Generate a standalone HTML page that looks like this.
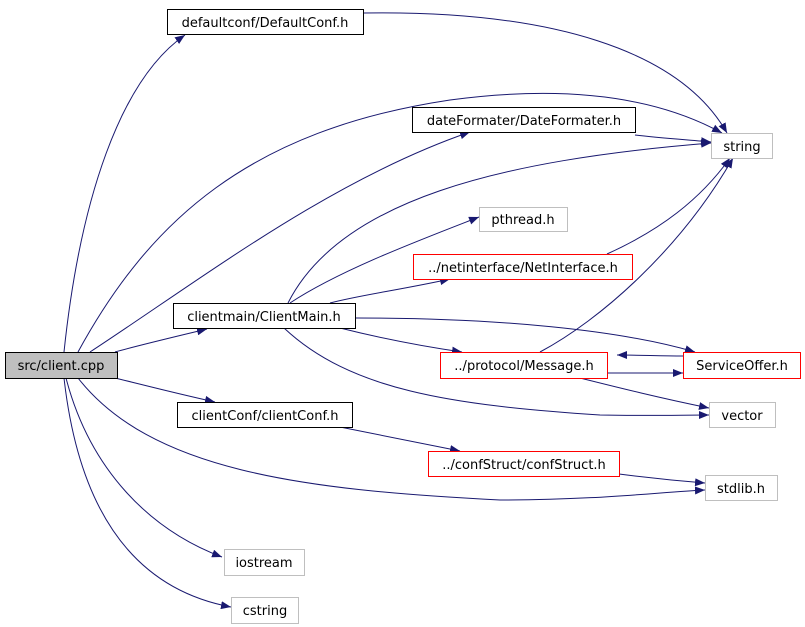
<!DOCTYPE html>
<html><head><meta charset="utf-8"><style>
html,body{margin:0;padding:0;background:#fff;width:805px;height:627px;overflow:hidden}
text{font-family:"DejaVu Sans","Liberation Sans",sans-serif;font-size:13px;fill:#000}
</style></head><body>
<svg width="805" height="627" viewBox="0 0 805 627" xmlns="http://www.w3.org/2000/svg">
<defs><marker id="a" viewBox="0 0 10 8" refX="10" refY="4" markerWidth="10" markerHeight="8" markerUnits="userSpaceOnUse" orient="auto"><path d="M0,0L10,4L0,8z" fill="#191970"/></marker></defs>
<g fill="none" stroke="#191970" stroke-width="1" marker-end="url(#a)">
<path d="M64,352C80,200 120,80 185,35"/>
<path d="M78,352C150,220 250,130 450,100C600,80 680,110 722,133"/>
<path d="M90,352C200,280 330,180 470,132"/>
<path d="M115,352C140,345 170,338 207,329"/>
<path d="M115,378C140,384 170,392 215,402"/>
<path d="M78,378C150,470 300,490 500,500C600,500 660,492 705,490"/>
<path d="M66,378C90,470 150,530 222,557"/>
<path d="M64,378C80,520 140,590 231,607"/>
<path d="M363,13C550,10 680,50 727,133"/>
<path d="M635,135C660,138 690,140 711,142"/>
<path d="M288,303C340,200 500,160 711,143"/>
<path d="M290,303C340,270 420,240 479,217"/>
<path d="M330,303C360,295 400,290 450,279"/>
<path d="M356,318C500,318 620,330 695,352"/>
<path d="M340,328C380,338 420,346 462,352"/>
<path d="M284,328C350,390 450,405 600,415C650,416 680,415 709,415"/>
<path d="M607,254C660,230 700,200 730,158"/>
<path d="M540,352C600,320 680,250 733,158"/>
<path d="M683,356C660,356 640,355 617,355"/>
<path d="M607,373C630,373 660,373 683,373"/>
<path d="M580,378C620,388 660,398 709,408"/>
<path d="M340,427C380,435 420,443 460,451"/>
<path d="M619,474C650,478 680,481 705,483"/>
</g>
<g stroke-width="1">
<rect x="5.5" y="352.5" width="112" height="26" fill="#bfbfbf" stroke="#000"/>
<rect x="167.5" y="9.5" width="196" height="25" fill="#fff" stroke="#000"/>
<rect x="412.5" y="107.5" width="223" height="25" fill="#fff" stroke="#000"/>
<rect x="711.5" y="133.5" width="61" height="25" fill="#fff" stroke="#bfbfbf"/>
<rect x="479.5" y="207.5" width="88" height="24" fill="#fff" stroke="#bfbfbf"/>
<rect x="413.5" y="254.5" width="219" height="25" fill="#fff" stroke="#ff0000"/>
<rect x="173.5" y="303.5" width="182" height="25" fill="#fff" stroke="#000"/>
<rect x="440.5" y="352.5" width="167" height="26" fill="#fff" stroke="#ff0000"/>
<rect x="683.5" y="352.5" width="117" height="26" fill="#fff" stroke="#ff0000"/>
<rect x="709.5" y="402.5" width="66" height="25" fill="#fff" stroke="#bfbfbf"/>
<rect x="177.5" y="402.5" width="175" height="25" fill="#fff" stroke="#000"/>
<rect x="428.5" y="451.5" width="191" height="25" fill="#fff" stroke="#ff0000"/>
<rect x="705.5" y="475.5" width="72" height="25" fill="#fff" stroke="#bfbfbf"/>
<rect x="224.5" y="549.5" width="80" height="26" fill="#fff" stroke="#bfbfbf"/>
<rect x="231.5" y="597.5" width="67" height="26" fill="#fff" stroke="#bfbfbf"/>
</g>
<g text-anchor="middle">
<text x="61" y="370">src/client.cpp</text>
<text x="265" y="27">defaultconf/DefaultConf.h</text>
<text x="524" y="125">dateFormater/DateFormater.h</text>
<text x="742" y="151">string</text>
<text x="523" y="224">pthread.h</text>
<text x="523" y="272">../netinterface/NetInterface.h</text>
<text x="264" y="321">clientmain/ClientMain.h</text>
<text x="524" y="370">../protocol/Message.h</text>
<text x="742" y="370">ServiceOffer.h</text>
<text x="742" y="420">vector</text>
<text x="265" y="420">clientConf/clientConf.h</text>
<text x="524" y="469">../confStruct/confStruct.h</text>
<text x="741" y="493">stdlib.h</text>
<text x="264" y="567">iostream</text>
<text x="265" y="615">cstring</text>
</g>
</svg>
</body></html>
